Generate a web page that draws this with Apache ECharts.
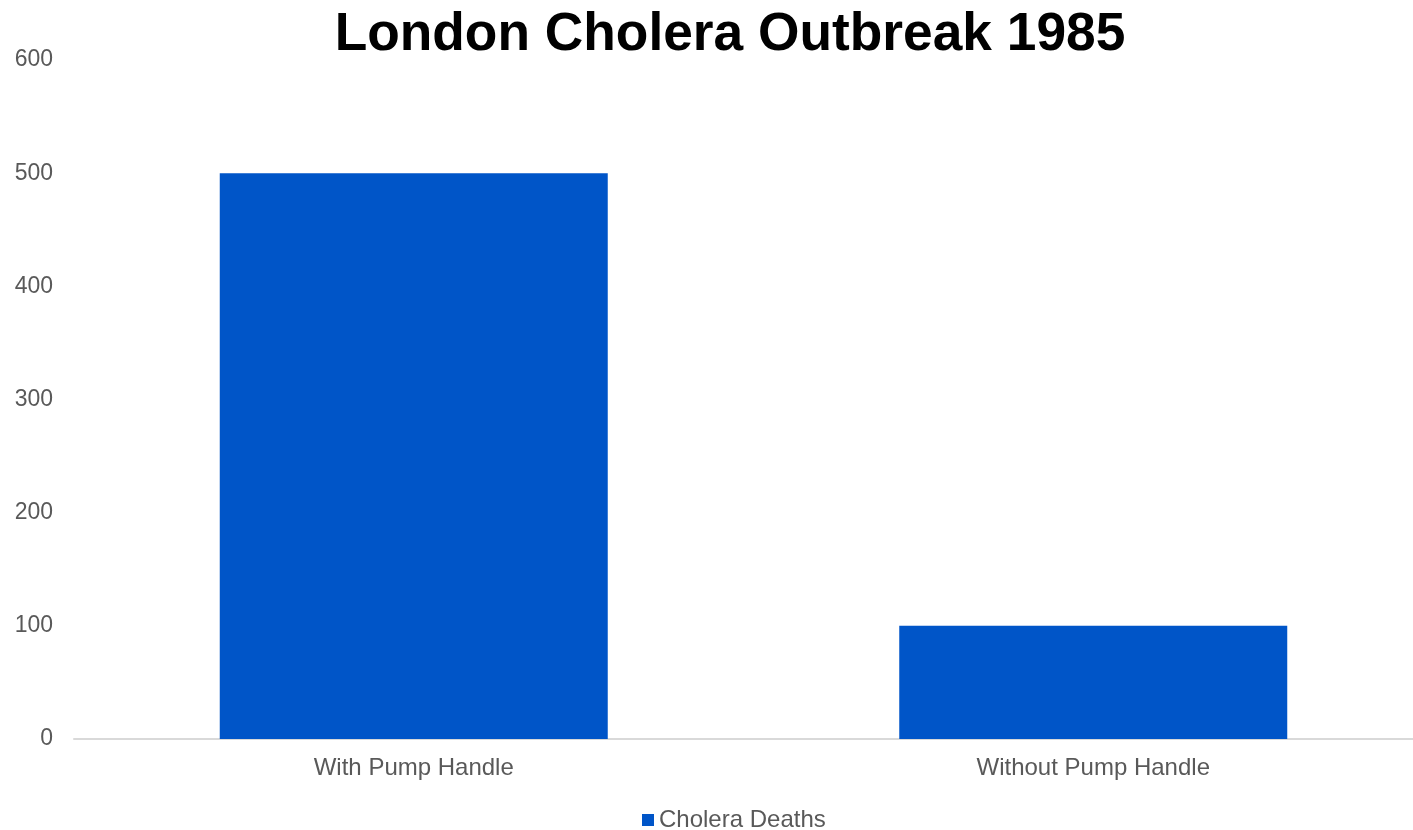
<!DOCTYPE html>
<html><head><meta charset="utf-8">
<script src="https://cdn.jsdelivr.net/npm/echarts@6/dist/echarts.min.js"></script>
<style>html,body{margin:0;padding:0;background:#fff;overflow:hidden;width:1413px;height:830px}#c{width:1433px;height:830px}</style>
</head><body><div id="c"></div>
<script>
const categories = ["With Pump Handle", "Without Pump Handle"];
const seriesName = "Cholera Deaths";
const deaths = [500, 100];
const yTicks = { min: 0, max: 600, interval: 100 };

const chart = echarts.init(document.getElementById('c'));
chart.setOption({
  animation: false,
  backgroundColor: '#ffffff',
  title: {
    text: 'London Cholera Outbreak 1985',
    left: 725, top: 4, textAlign: 'center',
    textStyle: { fontFamily: 'Liberation Sans, Arial', fontSize: 53.3, fontWeight: 'bold', color: '#000' }
  },
  legend: {
    top: 803, left: 637, itemWidth: 12, itemHeight: 12, itemGap: 6,
    icon: 'rect',
    textStyle: { fontFamily: 'Liberation Sans, Arial', fontSize: 24, color: '#595959' },
    data: [seriesName]
  },
  grid: { left: 74, right: 0, top: 60, bottom: 91, containLabel: false },
  xAxis: {
    type: 'category', data: categories,
    axisLine: { lineStyle: { color: '#d9d9d9', width: 2 } },
    axisTick: { show: false },
    axisLabel: { fontFamily: 'Liberation Sans, Arial', fontSize: 24, color: '#595959', margin: 17 }
  },
  yAxis: {
    type: 'value', min: yTicks.min, max: yTicks.max, interval: yTicks.interval,
    splitLine: { show: false },
    axisLine: { show: false }, axisTick: { show: false },
    axisLabel: { fontFamily: 'Liberation Sans, Arial', fontSize: 23, color: '#595959', margin: 21 }
  },
  series: [{
    name: seriesName, type: 'bar', data: deaths,
    barCategoryGap: '42.9%',
    itemStyle: { color: '#0055c8' }
  }]
});
</script></body></html>
